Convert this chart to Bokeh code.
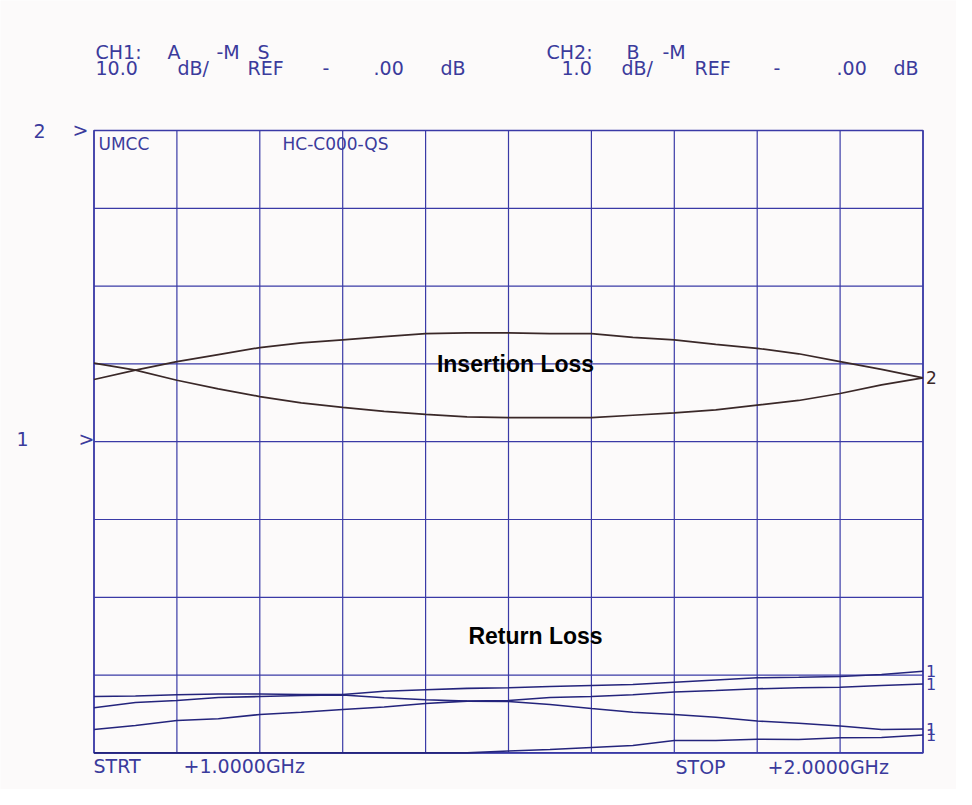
from bokeh.plotting import figure
from bokeh.models import Range1d, Label
from bokeh.embed import file_html
from bokeh.resources import INLINE

# ---------------- data ----------------
freq_ghz = [1.00, 1.05, 1.10, 1.15, 1.20, 1.25, 1.30, 1.35, 1.40, 1.45, 1.50,
            1.55, 1.60, 1.65, 1.70, 1.75, 1.80, 1.85, 1.90, 1.95, 2.00]

# CH2 (1 dB/div, REF 0 dB at top): insertion loss of the two outputs
il_out_a = [-3.20, -3.08, -2.97, -2.88, -2.79, -2.73, -2.69, -2.65, -2.61, -2.60, -2.60,
            -2.61, -2.61, -2.66, -2.69, -2.75, -2.80, -2.87, -2.97, -3.07, -3.18]
il_out_b = [-2.99, -3.08, -3.21, -3.32, -3.42, -3.50, -3.56, -3.61, -3.65, -3.68, -3.69,
            -3.69, -3.69, -3.66, -3.63, -3.59, -3.53, -3.47, -3.38, -3.27, -3.18]

# CH1 (10 dB/div, REF 0 dB at the "1 >" marker): return loss / isolation traces
rl_1 = [-32.75, -32.69, -32.53, -32.43, -32.43, -32.49, -32.49, -32.07, -31.89, -31.70, -31.63,
        -31.47, -31.34, -31.21, -30.91, -30.63, -30.35, -30.27, -30.18, -29.92, -29.50]
rl_2 = [-34.20, -33.52, -33.26, -32.88, -32.75, -32.62, -32.56, -32.92, -33.17, -33.35, -33.39,
        -33.78, -34.29, -34.77, -35.06, -35.41, -35.90, -36.18, -36.54, -36.99, -36.93]
rl_3 = [-36.99, -36.48, -35.84, -35.62, -35.06, -34.77, -34.42, -34.10, -33.65, -33.35, -33.26,
        -32.88, -32.75, -32.53, -32.17, -31.98, -31.76, -31.63, -31.56, -31.34, -31.14]
rl_4 = [-40.00, -40.00, -40.00, -40.00, -40.00, -40.00, -40.00, -40.00, -40.00, -40.00, -39.76,
        -39.56, -39.31, -39.05, -38.41, -38.41, -38.24, -38.28, -38.06, -38.02, -37.70]

freq_grid = [1.0, 1.1, 1.2, 1.3, 1.4, 1.5, 1.6, 1.7, 1.8, 1.9, 2.0]
ch1_grid = [-40, -30, -20, -10, 0, 10, 20, 30, 40]

# ---------------- layout ----------------
W, H = 956, 789
GX0, GX1 = 93.5, 922.5      # graticule left/right in px
GY0, GY1 = 130.0, 752.4     # graticule top/bottom in px
X0, X1 = 1.0, 2.0           # GHz
Y0, Y1 = -40.0, 40.0        # CH1 dB
C2_TOP, C2_BOT = 0.0, -8.0  # CH2 dB


def fx(px):
    return X0 + (px - GX0) / (GX1 - GX0) * (X1 - X0)


def fy(py):
    return Y1 - (py - GY0) / (GY1 - GY0) * (Y1 - Y0)


def fy2(py):
    return C2_TOP - (py - GY0) / (GY1 - GY0) * (C2_TOP - C2_BOT)


BLUE = "#3a3aa6"
TXT = "#3b3b9c"
RLC = "#24247c"
ILC = "#3a2828"
BG = "#fcfafa"

p = figure(width=W, height=H, output_backend="svg", toolbar_location=None,
           x_range=Range1d(fx(0), fx(W)), y_range=Range1d(fy(H), fy(0)),
           x_axis_location=None, y_axis_location=None,
           min_border=0)
p.extra_y_ranges = {"ch2": Range1d(fy2(H), fy2(0))}
p.background_fill_color = BG
p.border_fill_color = BG
p.outline_line_color = None
p.grid.visible = False

# graticule
p.segment(x0=freq_grid, y0=[Y0] * len(freq_grid), x1=freq_grid, y1=[Y1] * len(freq_grid),
          line_color=BLUE, line_width=1.2)
p.segment(x0=[X0] * len(ch1_grid), y0=ch1_grid, x1=[X1] * len(ch1_grid), y1=ch1_grid,
          line_color=BLUE, line_width=1.2)
p.quad(left=[X0], right=[X1], bottom=[Y0], top=[Y1], fill_color=None,
       line_color=BLUE, line_width=1.6)

for tr in (rl_1, rl_2, rl_3, rl_4):
    p.line(freq_ghz, tr, line_color=RLC, line_width=1.6)
for tr in (il_out_a, il_out_b):
    p.line(freq_ghz, tr, line_color=ILC, line_width=1.7, y_range_name="ch2")

# trace end markers
for tr in (rl_1, rl_3, rl_2, rl_4):
    p.add_layout(Label(x=freq_ghz[-1], y=tr[-1], text="1", x_offset=3,
                       text_font="DejaVu Sans", text_font_size="16px",
                       text_color=TXT, text_baseline="middle", text_align="left"))
p.add_layout(Label(x=freq_ghz[-1], y=il_out_a[-1], text="2", x_offset=3,
                   y_range_name="ch2", text_font="DejaVu Sans", text_font_size="17px",
                   text_color=ILC, text_baseline="middle", text_align="left"))

# plotter annotation texts (px: left x, middle y)
plot_texts = [
    ("CH1:", 95, 51), ("A", 167, 51), ("-M", 216, 51), ("S", 257, 51),
    ("CH2:", 546, 51), ("B", 626, 51), ("-M", 662, 51),
    ("10.0", 95, 67), ("dB/", 177, 67), ("REF", 247, 67), ("-", 322, 67),
    (".00", 373, 67), ("dB", 440, 67),
    ("1.0", 561, 67), ("dB/", 621, 67), ("REF", 694, 67), ("-", 773, 67),
    (".00", 836, 67), ("dB", 893, 67),
    ("2", 33, 130), (">", 72, 129), ("1", 16, 438), (">", 78, 438),
    ("STRT", 93, 765), ("+1.0000GHz", 183, 765),
    ("STOP", 675, 766), ("+2.0000GHz", 767, 766),
]
for t, px, py in plot_texts:
    p.add_layout(Label(x=fx(px), y=fy(py), text=t, text_font="DejaVu Sans",
                       text_font_size="19px", text_color=TXT,
                       text_baseline="middle", text_align="left"))

for t, px, py in [("UMCC", 98, 143), ("HC-C000-QS", 282, 143)]:
    p.add_layout(Label(x=fx(px), y=fy(py), text=t, text_font="DejaVu Sans",
                       text_font_size="17px", text_color=TXT,
                       text_baseline="middle", text_align="left"))

for t, px, py in [("Insertion Loss", 515, 363), ("Return Loss", 535, 635)]:
    p.add_layout(Label(x=fx(px), y=fy(py), text=t, text_font="Liberation Sans",
                       text_font_size="23px", text_font_style="bold",
                       text_color="#000000", text_baseline="middle", text_align="center"))

open("out.html", "w").write(file_html(p, INLINE))
